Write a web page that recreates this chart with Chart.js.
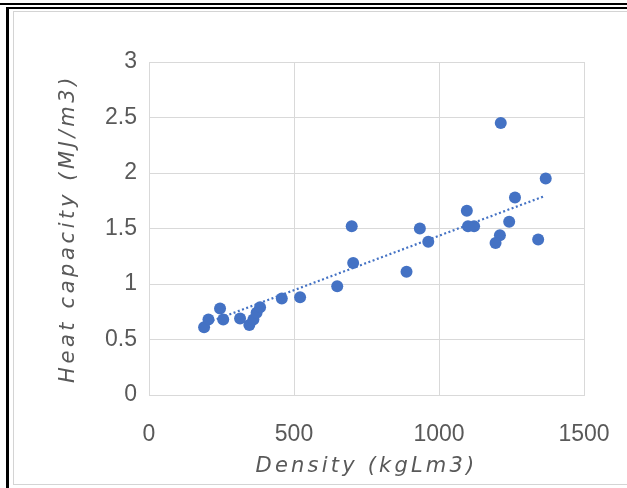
<!DOCTYPE html>
<html>
<head>
<meta charset="utf-8">
<script src="https://cdn.jsdelivr.net/npm/chart.js@4.4.1/dist/chart.umd.min.js"></script>
<style>
  html, body { margin: 0; padding: 0; background: #ffffff; }
  #wrap { position: relative; width: 627px; height: 488px; overflow: hidden; }
  #chart { position: absolute; left: 0; top: 0; }
  .blk { position: absolute; background: #000; }
  .inner { position: absolute; left: 13px; top: 11px; width: 640px; height: 474px; border: 1px solid #d4d4d4; box-sizing: border-box; }
</style>
</head>
<body>
<div id="wrap">
  <div class="blk" style="left:0;top:3px;width:627px;height:2px;"></div>
  <div class="blk" style="left:6px;top:7px;width:621px;height:2px;"></div>
  <div class="blk" style="left:6px;top:7px;width:3px;height:481px;"></div>
  <div class="inner"></div>
  <canvas id="chart" width="627" height="488"></canvas>
</div>
<script>
// ---- data ----
const density = [190, 205, 245, 256, 314, 346, 360, 371, 383, 458, 521,
                 649, 699, 704, 888, 934, 963,
                 1213, 1368, 1262, 1096, 1100, 1121, 1242, 1210, 1195, 1342];
const heatCapacity = [0.61, 0.68, 0.78, 0.68, 0.69, 0.63, 0.68, 0.74, 0.79, 0.87, 0.88,
                      0.98, 1.52, 1.19, 1.11, 1.50, 1.38,
                      2.45, 1.95, 1.78, 1.66, 1.52, 1.52, 1.56, 1.44, 1.37, 1.40];
// linear trendline as drawn in the reference (end points)
const trendX = [190, 1362];
const trendY = [0.64, 1.79];
const xTicks = [0, 500, 1000, 1500];
const yTicks = [0, 0.5, 1, 1.5, 2, 2.5, 3];
const xTitle = 'Density (kgLm3)';
const yTitle = 'Heat capacity (MJ/m3)';

const pts = density.map((d, i) => ({ x: d, y: heatCapacity[i] }));
const trend = trendX.map((x, i) => ({ x: x, y: trendY[i] }));

function spaced(spacing) {
  return function (s) {
    if (s._wrappedTitle) return;
    const orig = s.drawTitle.bind(s);
    s.drawTitle = function () {
      const c = this.ctx;
      const prev = c.letterSpacing;
      c.letterSpacing = spacing;
      orig.apply(null, arguments);
      c.letterSpacing = prev || '0px';
    };
    s._wrappedTitle = true;
  };
}

const textColor = '#595959';
const gridColor = '#d9d9d9';
const tickFont = { family: 'Liberation Sans', size: 23 };
const titleFont = { family: 'DejaVu Sans', size: 21, style: 'italic' };

new Chart(document.getElementById('chart'), {
  type: 'scatter',
  data: {
    datasets: [
      {
        data: pts,
        backgroundColor: '#4472C4',
        borderColor: '#4472C4',
        pointRadius: 6,
        pointHoverRadius: 6,
        borderWidth: 0
      },
      {
        type: 'line',
        data: trend,
        borderColor: '#4472C4',
        borderWidth: 2.2,
        borderDash: [2, 2.5],
        pointRadius: 0,
        fill: false,
        tension: 0
      }
    ]
  },
  options: {
    responsive: false,
    animation: false,
    events: [],
    layout: { padding: { left: 0, right: 43, top: 62, bottom: 0 } },
    plugins: { legend: { display: false }, tooltip: { enabled: false } },
    scales: {
      x: {
        type: 'linear',
        min: 0, max: 1500,
        afterBuildTicks: s => { s.ticks = xTicks.map(v => ({ value: v })); },
        afterFit: s => { s.height = 93; s.paddingLeft = 0; s.paddingRight = 0; },
        afterUpdate: spaced('3.2px'),
        grid: { color: gridColor, lineWidth: 1, drawTicks: false, tickLength: 0 },
        border: { color: gridColor, width: 1 },
        ticks: { color: textColor, padding: 26, font: tickFont, callback: v => String(v) },
        title: {
          display: true, text: xTitle, color: textColor,
          font: titleFont,
          padding: { top: 0, bottom: 9 }
        }
      },
      y: {
        type: 'linear',
        min: 0, max: 3,
        afterBuildTicks: s => { s.ticks = yTicks.map(v => ({ value: v })); },
        afterFit: s => { s.width = 149; s.paddingTop = 0; s.paddingBottom = 0; },
        afterUpdate: spaced('3.6px'),
        grid: { color: gridColor, lineWidth: 1, drawTicks: false, tickLength: 0 },
        border: { color: gridColor, width: 1 },
        ticks: { color: textColor, padding: 12, font: tickFont, callback: v => String(v) },
        title: {
          display: true, text: yTitle, color: textColor,
          font: titleFont,
          padding: { top: 56, bottom: 0 }
        }
      }
    }
  }
});
</script>
</body>
</html>
